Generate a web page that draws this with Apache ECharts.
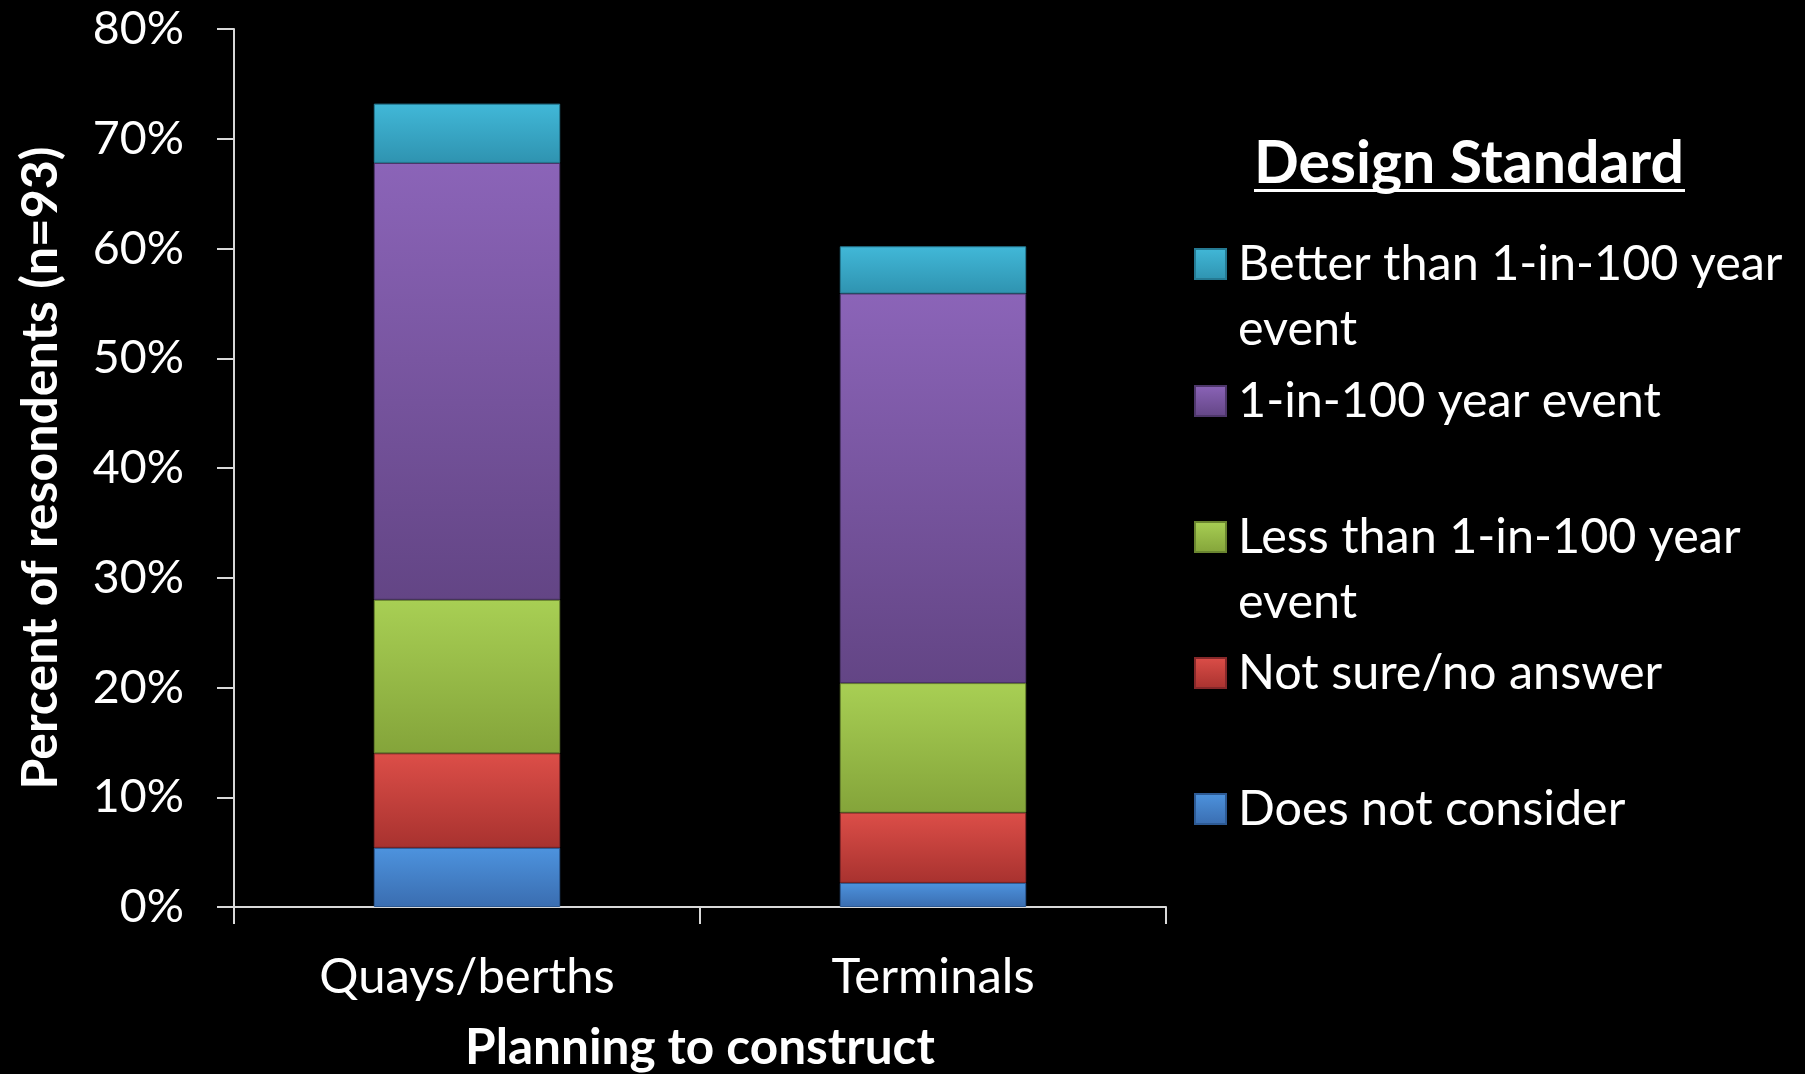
<!DOCTYPE html>
<html>
<head>
<meta charset="utf-8">
<script src="https://cdn.jsdelivr.net/npm/echarts@6/dist/echarts.min.js"></script>
<style>
html,body{margin:0;padding:0;background:#000;}
#chart{width:1805px;height:1074px;}
</style>
</head>
<body>
<div id="chart"></div>
<script>
// ---- data ----
const categories = ['Quays/berths', 'Terminals'];
const seriesNames = ['Does not consider', 'Not sure/no answer', 'Less than 1-in-100 year event', '1-in-100 year event', 'Better than 1-in-100 year event'];
const doesNotConsider = [5.4, 2.2];
const notSure = [8.6, 6.4];
const lessThan = [14.0, 11.8];
const oneIn100 = [39.8, 35.5];
const betterThan = [5.4, 4.3];
const yTicks = { min: 0, max: 80, interval: 10 };
const legendLines = {
  'Better than 1-in-100 year event': ['Better than 1-in-100 year', 'event'],
  '1-in-100 year event': ['1-in-100 year event'],
  'Less than 1-in-100 year event': ['Less than 1-in-100 year', 'event'],
  'Not sure/no answer': ['Not sure/no answer'],
  'Does not consider': ['Does not consider']
};

// ---- styles ----
const FONT = 'Lato';
const palette = {
  'Does not consider': ['#4d93de', '#3a6db0', '#2d5a94'],
  'Not sure/no answer': ['#dc4e48', '#a8322f', '#85282a'],
  'Less than 1-in-100 year event': ['#a8cf54', '#84a43a', '#6a8530'],
  '1-in-100 year event': ['#8b64b8', '#634585', '#4e376b'],
  'Better than 1-in-100 year event': ['#41b8d8', '#2f93b0', '#257a93']
};
function grad(c) {
  return new echarts.graphic.LinearGradient(0, 0, 0, 1, [
    { offset: 0, color: c[0] }, { offset: 1, color: c[1] }
  ]);
}
const values = [doesNotConsider, notSure, lessThan, oneIn100, betterThan];
const series = seriesNames.map((n, i) => ({
  name: n,
  type: 'bar',
  stack: 'total',
  barWidth: '40%',
  data: values[i],
  itemStyle: { color: grad(palette[n]), borderColor: palette[n][2], borderWidth: 1 }
}));

// legend: one per item so icons align with first text line
const L = 65;
const legendOrder = ['Better than 1-in-100 year event', '1-in-100 year event', 'Less than 1-in-100 year event', 'Not sure/no answer', 'Does not consider'];
const iconCenters = [264, 401, 537, 673, 809];
const legends = legendOrder.map((n, i) => {
  const lines = legendLines[n];
  const multi = lines.length > 1;
  return {
    data: [n],
    orient: 'vertical',
    left: 1194,
    top: multi ? iconCenters[i] - 1.5 * L : iconCenters[i] - L / 2,
    padding: 0,
    itemWidth: 31,
    itemHeight: 30,
    icon: 'rect',
    selectedMode: false,
    formatter: name => {
      const ls = legendLines[name];
      const body = ls.map(s => '{t|' + s + '}').join('\n');
      return ls.length > 1 ? '{p| }\n' + body : body;
    },
    textStyle: {
      color: '#ffffff', fontFamily: FONT, fontSize: 48.5, lineHeight: L,
      rich: {
        t: { color: '#ffffff', fontFamily: FONT, fontSize: 48.5, lineHeight: L, padding: [0, 0, 0, 7] },
        p: { fontSize: 10, lineHeight: L, height: L }
      }
    }
  };
});

const chart = echarts.init(document.getElementById('chart'), null, { renderer: 'canvas' });
chart.setOption({
  backgroundColor: '#000000',
  animation: false,
  title: {
    text: 'Design Standard',
    left: 1254,
    top: 131,
    padding: 0,
    textStyle: { color: '#ffffff', fontFamily: FONT, fontWeight: 'bold', fontSize: 59, lineHeight: 66 }
  },
  graphic: [{
    type: 'rect',
    shape: { x: 1254, y: 189, width: 431, height: 3 },
    style: { fill: '#ffffff' }
  }],
  legend: legends,
  grid: { left: 234, right: 639, top: 29, bottom: 167, containLabel: false, outerBoundsMode: 'none' },
  xAxis: {
    type: 'category',
    data: categories,
    name: 'Planning to construct',
    nameLocation: 'middle',
    nameGap: 116,
    nameTextStyle: { color: '#ffffff', fontFamily: FONT, fontWeight: 'bold', fontSize: 49.5 },
    axisLine: { show: true, lineStyle: { color: '#d9d9d9', width: 2 } },
    axisTick: { show: true, length: 17, lineStyle: { color: '#d9d9d9', width: 2 } },
    axisLabel: { color: '#ffffff', fontFamily: FONT, fontSize: 49, margin: 46 },
    splitLine: { show: false }
  },
  yAxis: {
    type: 'value',
    min: yTicks.min, max: yTicks.max, interval: yTicks.interval,
    name: 'Percent of resondents (n=93)',
    nameLocation: 'middle',
    nameGap: 167,
    nameTextStyle: { color: '#ffffff', fontFamily: FONT, fontWeight: 'bold', fontSize: 50, lineHeight: 52 },
    axisLine: { show: true, lineStyle: { color: '#d9d9d9', width: 2 } },
    axisTick: { show: true, length: 17, lineStyle: { color: '#d9d9d9', width: 2 } },
    axisLabel: { color: '#ffffff', fontFamily: FONT, fontSize: 46.5, margin: 50, formatter: '{value}%' },
    splitLine: { show: false }
  },
  series: series
});
</script>
</body>
</html>
